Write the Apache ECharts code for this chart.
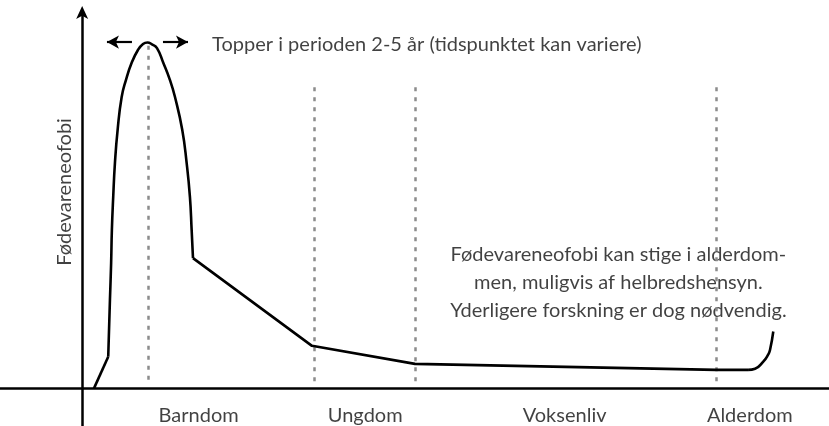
<!DOCTYPE html>
<html>
<head>
<meta charset="utf-8">
<script src="https://cdn.jsdelivr.net/npm/echarts@6/dist/echarts.min.js"></script>
<style>html,body{margin:0;padding:0;background:#fff}#c{width:829px;height:426px}</style>
</head>
<body>
<div id="c"></div>
<script>
// Curve of food neophobia over life (arbitrary units: x = life span, y = level 0-100)
var riseX = [1.58, 3.49];
var riseY = [0, 8.42];
var peakX = [3.49, 3.72, 3.88, 3.98, 4.16, 4.39, 4.75, 5.29, 5.86, 6.63, 7.47, 8.15, 8.74, 9.35, 10.02, 10.86, 11.76, 12.43, 13.40, 13.99, 14.43, 14.66, 14.84];
var peakY = [8.42, 23.5, 33.3, 42.1, 50.9, 59.9, 68.7, 77.4, 81.9, 86.5, 89.9, 91.5, 91.9, 91.4, 90.4, 86.5, 81.9, 77.4, 68.7, 59.9, 50.9, 42.1, 34.6];
var declineX = [14.84, 30.77, 44.56, 84.87, 89.16];
var declineY = [34.6, 11.3, 6.5, 4.9, 4.9];
var oldAgeX = [89.16, 90.1, 91.2, 91.83, 92.10, 92.54];
var oldAgeY = [4.9, 5.2, 7.1, 8.9, 10.2, 15.1];
// Phase dividers (x) and their top (y)
var dividerX = [8.81, 31.1, 44.6, 84.9];
var dividerTop = [91.0, 80.0, 80.0, 80.0];
var dividerBottom = 0.9;
// Phase labels
var phaseNames = ['Barndom', 'Ungdom', 'Voksenliv', 'Alderdom'];
var phaseX = [15.6, 37.9, 64.6, 89.4];
var phaseY = -7.1;
// Annotations
var peakText = 'Topper i perioden 2-5 år (tidspunktet kan variere)';
var peakTextPos = [17.4, 91.4];
var peakArrowLeft = [[6.67, 92.0], [3.32, 92.0]];
var peakArrowRight = [[10.82, 92.0], [14.17, 92.0]];
var oldText = 'Fødevareneofobi kan stige i alderdom-\nmen, muligvis af helbredshensyn.\nYderligere forskning er dog nødvendig.';
var oldTextPos = [71.8, 28.0];
var yTitle = 'Fødevareneofobi';
var yTitlePos = [-2.3, 52.2];

var FONT = 'Lato';
var FS = 20;
var chart = echarts.init(document.getElementById('c'));

function pairs(xs, ys) { return xs.map(function (x, i) { return [x, ys[i]]; }); }
var dividerLines = dividerX.map(function (x, i) {
  return [{ coord: [x, dividerTop[i]] }, { coord: [x, dividerBottom] }];
});
var curveStyle = { color: '#000', width: 2.6 };
var labelBase = { show: true, position: 'inside', formatter: '{b}', color: '#111', fontFamily: FONT, fontSize: FS };

chart.setOption({
  animation: false,
  grid: { left: 0, right: 0, top: 12, bottom: 0 },
  xAxis: {
    type: 'value', min: -11, max: 100,
    axisLine: { onZero: true, lineStyle: { color: '#000', width: 2.5 } },
    axisTick: { show: false }, axisLabel: { show: false }, splitLine: { show: false }
  },
  yAxis: {
    type: 'value', min: -10, max: 100,
    axisLine: { onZero: true, symbol: ['none', 'arrow'], symbolSize: [9, 13], symbolOffset: [0, 6], lineStyle: { color: '#000', width: 2.5 } },
    axisTick: { show: false }, axisLabel: { show: false }, splitLine: { show: false }
  },
  series: [
    { type: 'line', data: pairs(riseX, riseY), symbol: 'none', lineStyle: curveStyle, z: 5 },
    { type: 'line', data: pairs(peakX, peakY), symbol: 'none', smooth: 0.5, smoothMonotone: 'none', lineStyle: curveStyle, z: 5 },
    {
      type: 'line', data: pairs(declineX, declineY), symbol: 'none', lineStyle: curveStyle, z: 5,
      markLine: {
        silent: true, symbol: 'none', label: { show: false },
        lineStyle: { color: '#8c8c8c', width: 2.5, type: [4, 6] },
        data: dividerLines
      }
    },
    { type: 'line', data: pairs(oldAgeX, oldAgeY), symbol: 'none', smooth: 0.5, lineStyle: curveStyle, z: 5 },
    {
      type: 'line', data: [], symbol: 'none',
      markLine: {
        silent: true, symbol: ['none', 'arrow'], symbolSize: [10, 12], label: { show: false },
        lineStyle: { color: '#000', width: 2.2, type: 'solid' },
        data: [
          [{ coord: peakArrowLeft[0] }, { coord: peakArrowLeft[1] }],
          [{ coord: peakArrowRight[0] }, { coord: peakArrowRight[1] }]
        ]
      }
    },
    {
      type: 'scatter', symbolSize: 0, silent: true,
      data: phaseNames.map(function (n, i) { return { value: [phaseX[i], phaseY], name: n }; }),
      label: labelBase
    },
    {
      type: 'scatter', symbolSize: 0, silent: true,
      data: [
        { value: peakTextPos, name: peakText, label: { align: 'left' } },
        { value: oldTextPos, name: oldText, label: { align: 'center', lineHeight: 28 } },
        { value: yTitlePos, name: yTitle, label: { rotate: 90 } }
      ],
      label: labelBase
    }
  ]
});
</script>
</body>
</html>
